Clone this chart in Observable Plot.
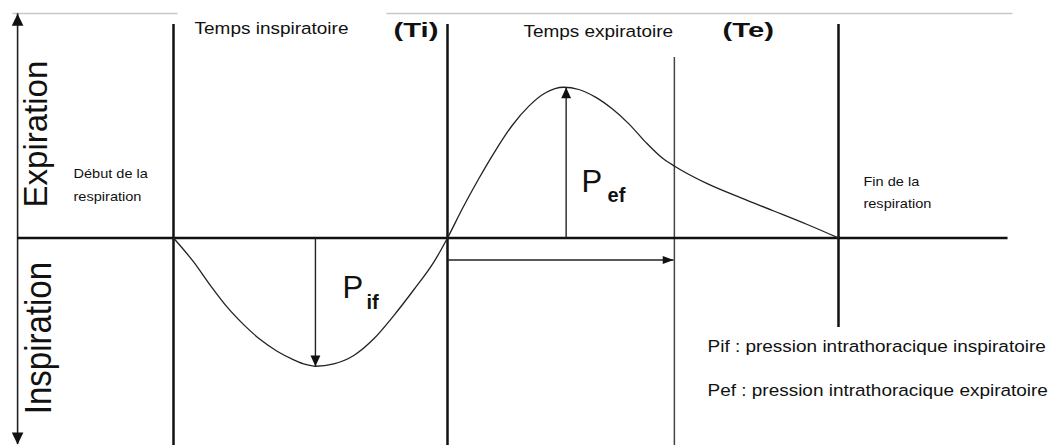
<!DOCTYPE html>
<html>
<head>
<meta charset="utf-8">
<script src="https://cdn.jsdelivr.net/npm/d3@7"></script>
<script src="https://cdn.jsdelivr.net/npm/@observablehq/plot@0.6"></script>
<style>
  html, body { margin: 0; padding: 0; background: #fff; }
  #chart { position: absolute; left: 0; top: 0; }
</style>
</head>
<body>
<div id="chart"></div>
<script>
// ---- DATA (time t in % of inspiratory time Ti; pressure p in arbitrary units, + = expiration) ----
// Pressure curve over one breathing cycle
const curveT = [0, 7.4, 13.5, 19.6, 25.7, 31.8, 37.8, 43.9, 48.2, 51.8, 58.5, 65.8, 73.1, 80.4, 87.7, 95, 100,
                105.4, 111.4, 117.5, 123.6, 129.7, 135.8, 142.4, 147.9, 154, 160.1, 166.2, 172.3, 178.4, 183.2,
                194.8, 206.9, 219.1, 231.3, 242.7];
const curveP = [0, -16.1, -31.7, -46.1, -57.9, -67.9, -75.5, -81.2, -84.3, -85.5, -83.9, -78.3, -67.2, -51.7, -34.5, -16.1, 0,
                19.5, 39.5, 58.3, 75, 87.9, 96.8, 100.5, 99, 93.9, 86.1, 76.1, 63.9, 53.3, 47.5,
                36.2, 26.9, 18, 9, 0];

// Phase boundaries: start of breath, end of Ti, end of Te (thick lines)
const boundaryT = [0, 100, 242.7];
const boundaryTop = [142.3, 142.3, 142.3];
const boundaryBottom = [-138.3, -138.3, -59.7];

// Thin marker line inside expiration (end of the Te arrow)
const markerT = [182.8];
const markerTop = [120.3];
const markerBottom = [-138.3];

// Vertical axis (pressure) and horizontal axis (time)
const axisT = [-56.9];
const axisTop = [149.5];
const axisBottom = [-137.7];
const timeAxisStart = [-56.9];
const timeAxisEnd = [304.4];

// Top grey rule (two pieces)
const topRuleP = 149.7;
const topRuleX1 = [-58.8, 77.7];
const topRuleX2 = [1.5, 306.2];

// Arrows: base (x1,y1) -> tip (x2,y2), direction of the head
const arrowName = ["axisUp", "axisDown", "Pif", "Pef", "Te"];
const arrowX1 = [-56.9, -56.9, 51.8, 143.3, 100];
const arrowY1 = [0, 0, 0, 0, -14.7];
const arrowX2 = [-56.9, -56.9, 51.8, 143.3, 182.5];
const arrowY2 = [149.5, -137.7, -85.5, 100.3, -14.7];
const arrowDir = ["up", "down", "down", "up", "right"];

// Labels
const phaseText = ["Temps inspiratoire", "Temps expiratoire"];
const phaseT = [7.7, 127.7];
const phaseP = [136.3, 134.3];

const parenText = ["(Ti)", "(Te)"];
const parenT = [80.3, 200.4];
const parenP = [134.3, 134.3];

const sideText = ["Début de la\nrespiration", "Fin de la\nrespiration"];
const sideT = [-36.5, 251.8];
const sideP = [25, 19.7];

const axisText = ["Expiration", "Inspiration"];
const axisLabelT = [-49.9, -49.2];
const axisLabelP = [69.3, -66.7];

const pText = ["P", "P"];
const pT = [61.7, 148.9];
const pP = [-40.3, 30.5];
const subText = ["if", "ef"];
const subT = [70.4, 158.4];
const subP = [-47, 24.3];

const legendText = ["Pif : pression intrathoracique inspiratoire", "Pef : pression intrathoracique expiratoire"];
const legendT = [194.9, 194.9];
const legendP = [-76.3, -105];

// ---- build tables ----
const curve = curveT.map((t, i) => ({t, p: curveP[i]}));
const boundaries = boundaryT.map((t, i) => ({t, top: boundaryTop[i], bottom: boundaryBottom[i]}));
const markers = markerT.map((t, i) => ({t, top: markerTop[i], bottom: markerBottom[i]}));
const axes = axisT.map((t, i) => ({t, top: axisTop[i], bottom: axisBottom[i]}));
const timeAxis = timeAxisStart.map((s, i) => ({x1: s, x2: timeAxisEnd[i], p: 0}));
const topRule = topRuleX1.map((x1, i) => ({x1, x2: topRuleX2[i], p: topRuleP}));
const arrows = arrowName.map((n, i) => ({name: n, x1: arrowX1[i], y1: arrowY1[i], x2: arrowX2[i], y2: arrowY2[i], dir: arrowDir[i]}));
const mk = (txt, T, P) => txt.map((s, i) => ({text: s, t: T[i], p: P[i]}));
const phases = mk(phaseText, phaseT, phaseP);
const parens = mk(parenText, parenT, parenP);
const sides = mk(sideText, sideT, sideP);
const axisLabels = mk(axisText, axisLabelT, axisLabelP);
const ps = mk(pText, pT, pP);
const subs = mk(subText, subT, subP);
const legend = mk(legendText, legendT, legendP);

// arrow head symbols (tip at origin)
function head(dx, dy, wf) {
  return {
    draw(ctx, size) {
      const r = Math.sqrt(size / Math.PI);
      const L = r * 1.2, W = r * wf;
      const px = -dy, py = dx;
      ctx.moveTo(0, 0);
      ctx.lineTo(-dx * L + px * W, -dy * L + py * W);
      ctx.lineTo(-dx * L - px * W, -dy * L - py * W);
      ctx.closePath();
    }
  };
}
const dirs = {up: [0, -1], down: [0, 1], right: [1, 0]};

const FONT = "'Liberation Sans', Arial, Helvetica, sans-serif";
const W = 1055, H = 445;
const pxPerT = 2.74, x0 = 173;   // layout of the time scale
const pxPerP = 1.5, y0 = 237.5;  // layout of the pressure scale

const headMarks = arrows.map(a => Plot.dot([a], {
  x: "x2", y: "y2", r: a.name.startsWith("axis") ? 10 : 9,
  symbol: head(dirs[a.dir][0], dirs[a.dir][1], a.name.startsWith("axis") ? 0.58 : (a.dir === "right" ? 0.45 : 0.55)),
  fill: "#111", stroke: "none"
}));

const chart = Plot.plot({
  width: W,
  height: H,
  margin: 0,
  style: {fontFamily: FONT, background: "white", color: "#111"},
  x: {domain: [-x0 / pxPerT, (W - x0) / pxPerT], axis: null},
  y: {domain: [(y0 - H) / pxPerP, y0 / pxPerP], axis: null},
  marks: [
    Plot.link(topRule, {x1: "x1", x2: "x2", y1: "p", y2: "p", stroke: "#c8c8c8", strokeWidth: 1.5}),
    Plot.ruleX(boundaries, {x: "t", y1: "bottom", y2: "top", stroke: "#111", strokeWidth: 2.5}),
    Plot.ruleX(markers, {x: "t", y1: "bottom", y2: "top", stroke: "#444", strokeWidth: 1.5}),
    Plot.ruleX(axes, {x: "t", y1: "bottom", y2: "top", stroke: "#222", strokeWidth: 1.6}),
    Plot.link(timeAxis, {x1: "x1", x2: "x2", y1: "p", y2: "p", stroke: "#111", strokeWidth: 2.5}),
    Plot.link(arrows.filter(a => !a.name.startsWith("axis")), {x1: "x1", y1: "y1", x2: "x2", y2: "y2", stroke: "#222", strokeWidth: 1.4}),
    Plot.line(curve, {x: "t", y: "p", curve: "monotone-x", stroke: "#222", strokeWidth: 1.3}),
    ...headMarks,
    Plot.text(phases, {x: "t", y: "p", text: "text", textAnchor: "start", lineAnchor: "bottom", fontSize: 16.5, fill: "#111"}),
    Plot.text(parens, {x: "t", y: "p", text: "text", textAnchor: "start", lineAnchor: "bottom", fontSize: 19.5, fontWeight: "bold", fill: "#111"}),
    Plot.text(sides, {x: "t", y: "p", text: "text", textAnchor: "start", lineAnchor: "bottom", lineHeight: 1.75, fontSize: 13, fill: "#111"}),
    Plot.text(legend, {x: "t", y: "p", text: "text", textAnchor: "start", lineAnchor: "bottom", fontSize: 16.5, fill: "#111"}),
    Plot.text(axisLabels, {x: "t", y: "p", text: "text", rotate: -90, textAnchor: "middle", lineAnchor: "middle", fontSize: 33, fill: "#111"}),
    Plot.text(ps, {x: "t", y: "p", text: "text", textAnchor: "start", lineAnchor: "bottom", fontSize: 31, fill: "#111"}),
    Plot.text(subs, {x: "t", y: "p", text: "text", textAnchor: "start", lineAnchor: "bottom", fontSize: 20, fontWeight: "bold", fill: "#111"})
  ]
});

document.getElementById("chart").appendChild(chart);

// horizontal stretch of the text, keeping each label's left edge in place
const stretchOf = new Map();
phaseText.forEach(s => stretchOf.set(s, 1.15));
legendText.forEach(s => stretchOf.set(s, 1.15));
sideText.forEach(s => stretchOf.set(s.replace(/\n/g, ""), 1.12));
parenText.forEach(s => stretchOf.set(s, 1.5));
chart.querySelectorAll("text").forEach(el => {
  const sx = stretchOf.get(el.textContent);
  if (!sx) return;
  const tr = el.getAttribute("transform") || "";
  const before = el.getBoundingClientRect().left;
  el.setAttribute("transform", `${tr} scale(${sx},1)`);
  const after = el.getBoundingClientRect().left;
  if (Math.abs(after - before) > 0.5) {
    el.setAttribute("transform", `translate(${before - after},0) ${tr} scale(${sx},1)`);
  }
});
// the rotated "Inspiration" label is drawn wider across the axis
chart.querySelectorAll("text").forEach(el => {
  if (el.textContent === "Inspiration") {
    el.setAttribute("transform", `${el.getAttribute("transform")} scale(1,1.13)`);
  }
});
</script>
</body>
</html>
